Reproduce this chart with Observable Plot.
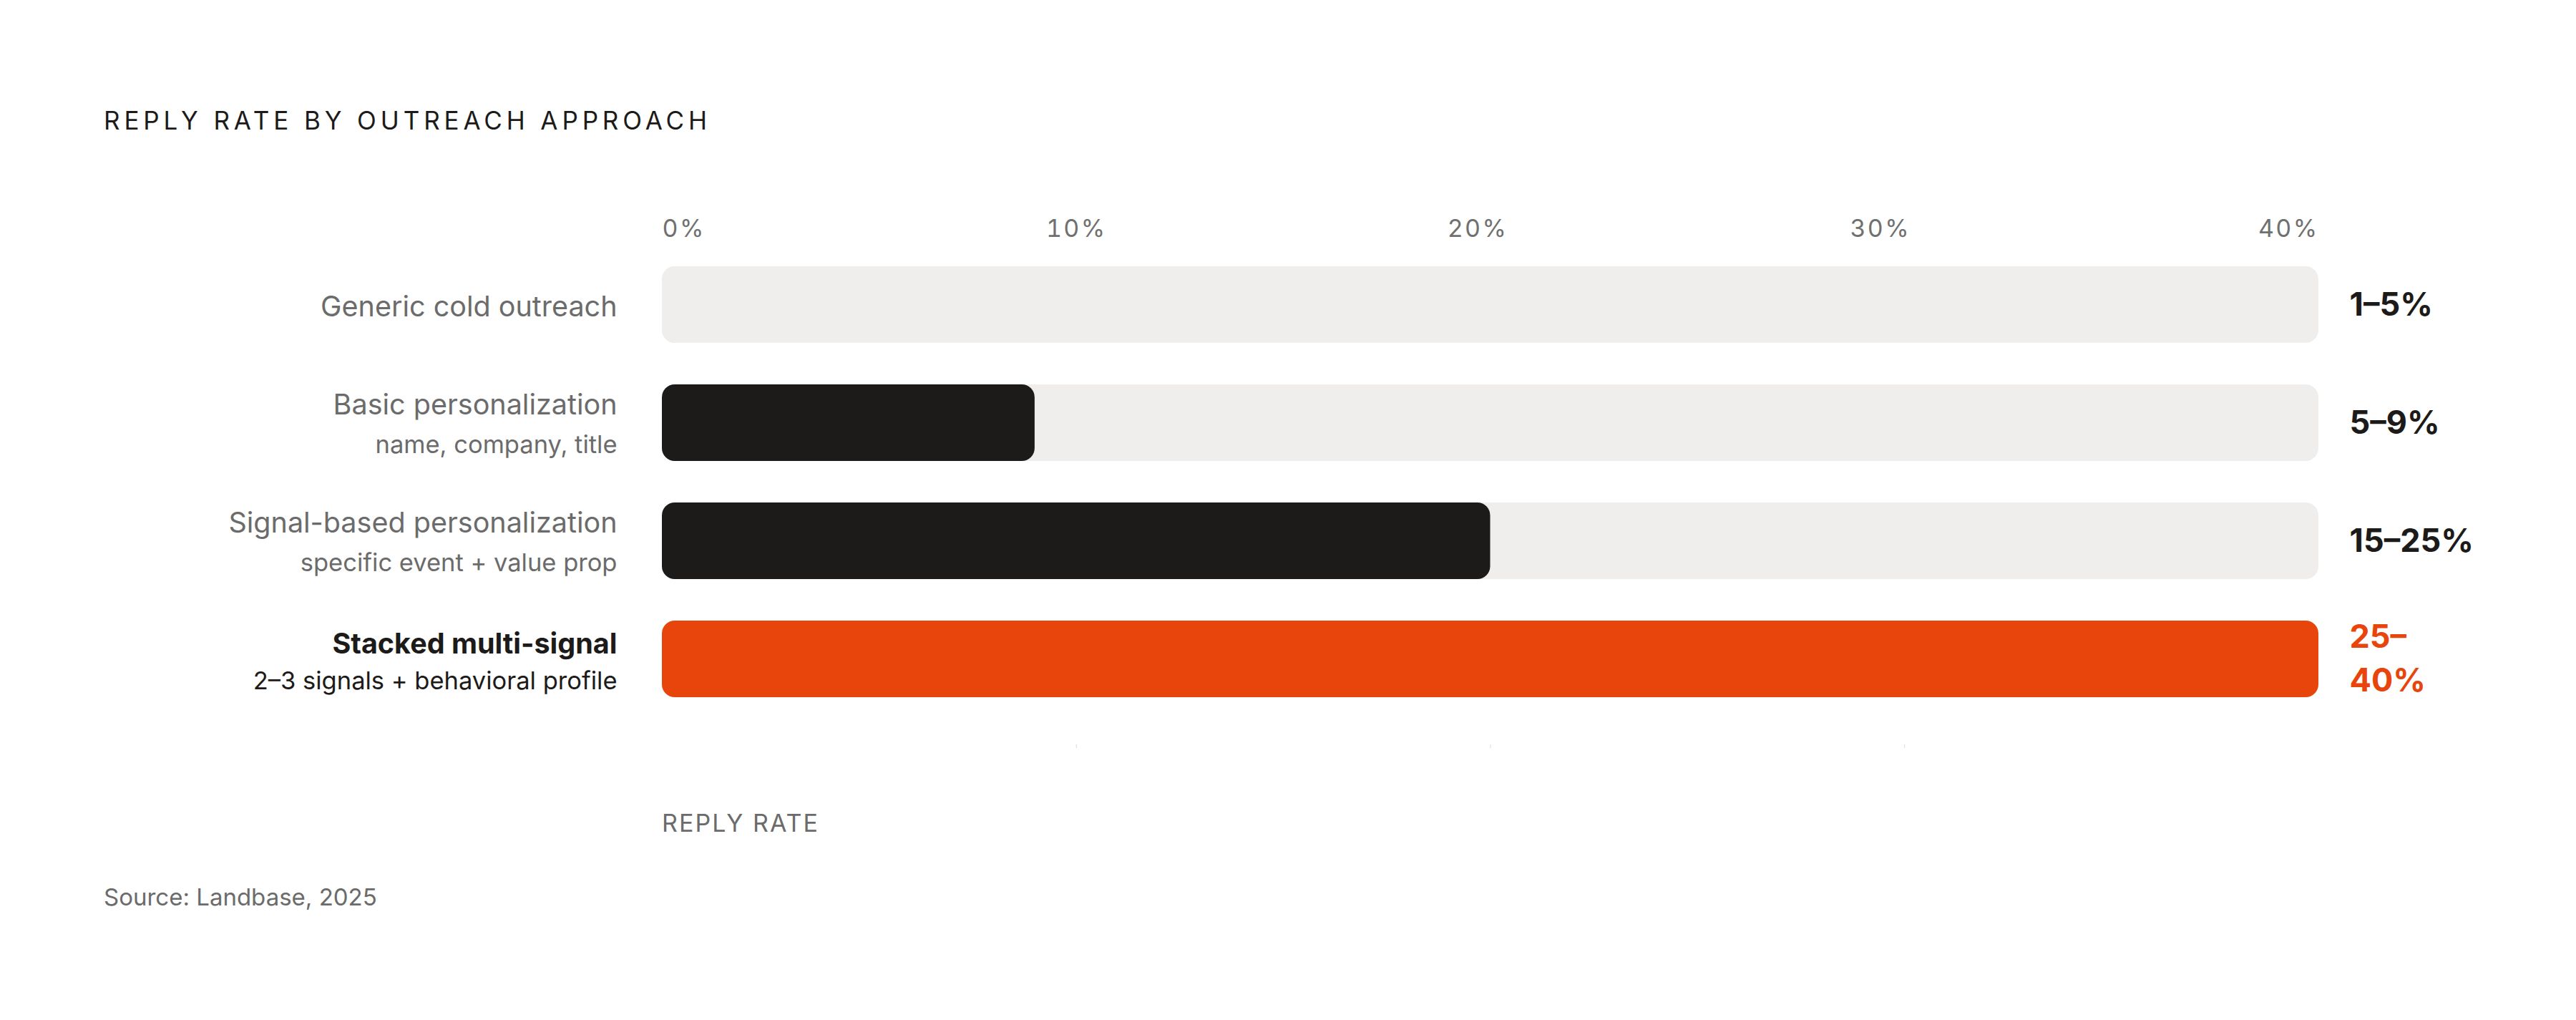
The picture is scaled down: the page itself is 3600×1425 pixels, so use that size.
<!DOCTYPE html>
<html>
<head>
<meta charset="utf-8">
<script src="https://cdn.jsdelivr.net/npm/d3@7"></script>
<script src="https://cdn.jsdelivr.net/npm/@observablehq/plot@0.6"></script>
<style>
  html, body { margin: 0; padding: 0; background: #ffffff; }
  body { width: 3600px; height: 1425px; position: relative; overflow: hidden; font-family: Inter, "Noto Sans", sans-serif; }
  #title { position: absolute; left: 145px; top: 151px; font-size: 35px; line-height: 1; letter-spacing: 0.168em; color: #1c1b19; white-space: nowrap; }
  #chart { position: absolute; left: 0; top: 260px; }
  #xlabel { position: absolute; left: 925px; top: 1133px; font-size: 34px; line-height: 1; letter-spacing: 0.06em; color: #6b6b6b; white-space: nowrap; }
  #source { position: absolute; left: 145px; top: 1237px; font-size: 33px; line-height: 1; color: #6b6b6b; white-space: nowrap; }
  #chart g[aria-label="x-axis tick label"] text { letter-spacing: 0.07em; }
</style>
</head>
<body>
<div id="title">REPLY RATE BY OUTREACH APPROACH</div>
<div id="chart"></div>
<div id="xlabel">REPLY RATE</div>
<div id="source">Source: Landbase, 2025</div>
<script>
// ---- data ----
const approaches = [
  "Generic cold outreach",
  "Basic personalization",
  "Signal-based personalization",
  "Stacked multi-signal"
];
const details = [
  "",
  "name, company, title",
  "specific event + value prop",
  "2–3 signals + behavioral profile"
];
const barValues = [5, 9, 20, 40];
const rangeLabels = ["1–5%", "5–9%", "15–25%", "25–\n40%"];
const tiers = ["baseline", "personalized", "personalized", "stacked"];
const xTicks = [0, 10, 20, 30, 40];

// ---- styles ----
const TRACK = "#efeeec";
const INK = "#1c1b19";
const ORANGE = "#e8450c";
const GRAY = "#6b6b6b";
const TICKGRAY = "#707070";
const fillOf = {baseline: TRACK, personalized: INK, stacked: ORANGE};

const rows = approaches.map((name, i) => ({
  name, detail: details[i], value: barValues[i], range: rangeLabels[i], tier: tiers[i]
}));
const maxX = d3.max(xTicks);
const minX = d3.min(xTicks);
const innerTicks = xTicks.filter(t => t !== minX && t !== maxX);
const pct = d => d + "%";
// labels are spread evenly by width in the original layout: small leftward nudges
const labelNudge = [0, -18, -34];

const topAxis = (ticks, opts) => Plot.axisX({
  anchor: "top", ticks, tickSize: 0, tickPadding: 30, tickFormat: pct,
  fontSize: 34, fill: TICKGRAY, label: null, ...opts
});

const chart = Plot.plot({
  width: 3600,
  height: 800,
  marginLeft: 925,
  marginRight: 360,
  marginTop: 100,
  marginBottom: 20,
  x: {domain: [minX, maxX], label: null},
  y: {domain: approaches, paddingInner: 0.35, paddingOuter: 0.2295, align: 0.158, axis: null},
  color: {type: "identity"},
  style: {fontFamily: "Inter, 'Noto Sans', sans-serif", background: "transparent", overflow: "visible"},
  marks: [
    // tick labels along the top
    topAxis([minX], {textAnchor: "start"}),
    ...innerTicks.map((t, i) => topAxis([t], {dx: labelNudge[i]})),
    topAxis([maxX], {textAnchor: "end"}),
    // faint tick marks at the bottom
    Plot.axisX({anchor: "bottom", ticks: innerTicks, tickSize: 5, stroke: "#d9d9d9", tickFormat: () => "", label: null}),
    // track
    Plot.barX(rows, {y: "name", x1: minX, x2: maxX, fill: TRACK, rx: 18}),
    // value bars
    Plot.barX(rows, {y: "name", x1: minX, x2: "value", fill: d => fillOf[d.tier], rx: 18}),
    // left labels: single-line
    Plot.text(rows.filter(d => !d.detail), {y: "name", frameAnchor: "left", dx: -63, dy: 3, textAnchor: "end", text: "name", fontSize: 39.5, fill: GRAY}),
    // left labels: main line (regular)
    Plot.text(rows.filter(d => d.detail && d.tier !== "stacked"), {y: "name", frameAnchor: "left", dx: -63, dy: -25, textAnchor: "end", text: "name", fontSize: 39.5, fill: GRAY}),
    // left labels: main line (emphasized)
    Plot.text(rows.filter(d => d.detail && d.tier === "stacked"), {y: "name", frameAnchor: "left", dx: -63, dy: -21, textAnchor: "end", text: "name", fontSize: 39.5, fontWeight: 700, fill: INK}),
    // left labels: detail line
    Plot.text(rows.filter(d => d.detail), {y: "name", frameAnchor: "left", dx: -63, dy: 31, textAnchor: "end", text: "detail", fontSize: 34.5, fill: d => d.tier === "stacked" ? INK : GRAY}),
    // right value labels
    Plot.text(rows, {y: "name", frameAnchor: "right", dx: 43, dy: -5, textAnchor: "start", text: "range", fontSize: 45, fontWeight: 700, lineHeight: 1.36, fill: d => d.tier === "stacked" ? ORANGE : INK})
  ]
});
document.getElementById("chart").appendChild(chart);
</script>
</body>
</html>
